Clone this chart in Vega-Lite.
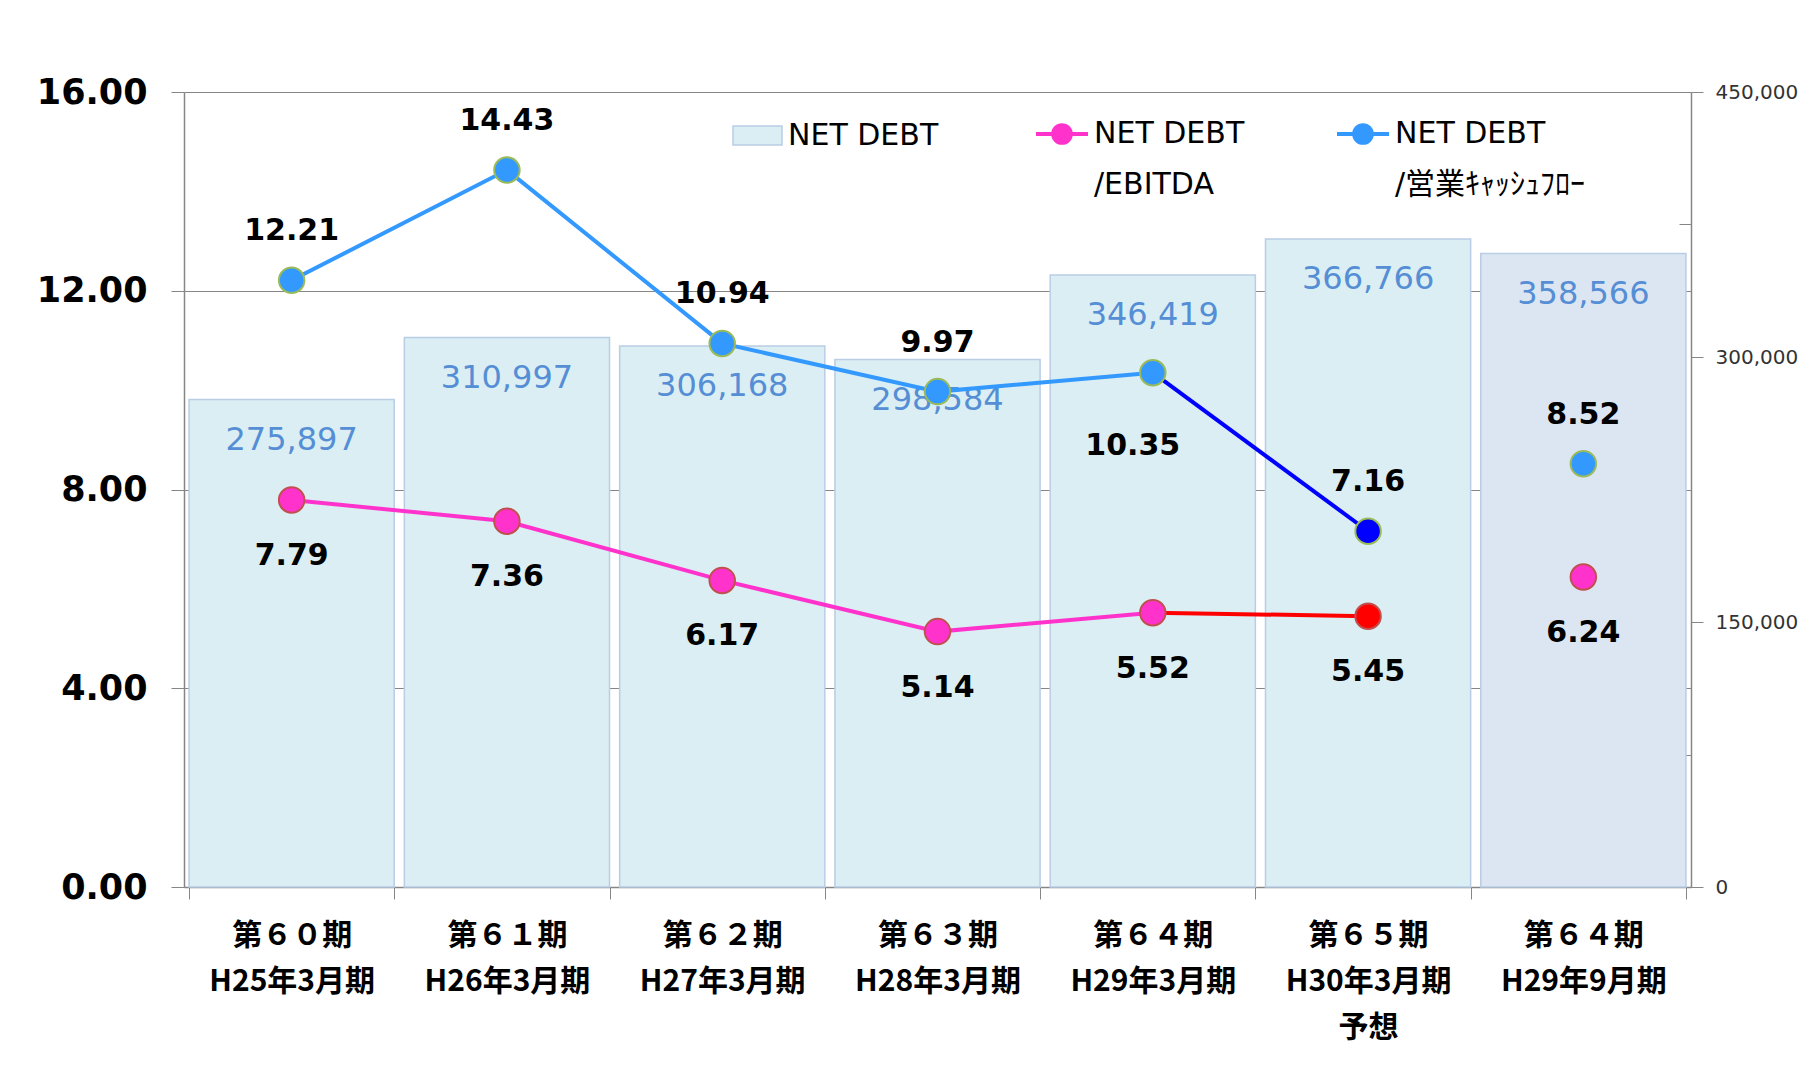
{
  "$schema": "https://vega.github.io/schema/vega-lite/v6.json",
  "width": 1507,
  "height": 795,
  "autosize": {"type": "none"},
  "padding": {"left": 184, "top": 92, "right": 111, "bottom": 188},
  "background": "white",
  "config": {"view": {"stroke": null}},
  "datasets": {
    "debt": [
      {"period": "第６０期\nH25年3月期", "series": "NET DEBT", "amount": 275897, "kind": "実績"},
      {"period": "第６１期\nH26年3月期", "series": "NET DEBT", "amount": 310997, "kind": "実績"},
      {"period": "第６２期\nH27年3月期", "series": "NET DEBT", "amount": 306168, "kind": "実績"},
      {"period": "第６３期\nH28年3月期", "series": "NET DEBT", "amount": 298584, "kind": "実績"},
      {"period": "第６４期\nH29年3月期", "series": "NET DEBT", "amount": 346419, "kind": "実績"},
      {"period": "第６５期\nH30年3月期\n予想", "series": "NET DEBT", "amount": 366766, "kind": "予想"},
      {"period": "第６４期\nH29年9月期", "series": "NET DEBT", "amount": 358566, "kind": "中間"}
    ],
    "ratio": [
      {"period": "第６０期\nH25年3月期", "series": "NET DEBT/EBITDA", "value": 7.79, "kind": "実績"},
      {"period": "第６１期\nH26年3月期", "series": "NET DEBT/EBITDA", "value": 7.36, "kind": "実績"},
      {"period": "第６２期\nH27年3月期", "series": "NET DEBT/EBITDA", "value": 6.17, "kind": "実績"},
      {"period": "第６３期\nH28年3月期", "series": "NET DEBT/EBITDA", "value": 5.14, "kind": "実績"},
      {"period": "第６４期\nH29年3月期", "series": "NET DEBT/EBITDA", "value": 5.52, "kind": "実績"},
      {"period": "第６５期\nH30年3月期\n予想", "series": "NET DEBT/EBITDA", "value": 5.45, "kind": "予想"},
      {"period": "第６４期\nH29年9月期", "series": "NET DEBT/EBITDA", "value": 6.24, "kind": "中間"},
      {"period": "第６０期\nH25年3月期", "series": "NET DEBT/営業ｷｬｯｼｭﾌﾛｰ", "value": 12.21, "kind": "実績"},
      {"period": "第６１期\nH26年3月期", "series": "NET DEBT/営業ｷｬｯｼｭﾌﾛｰ", "value": 14.43, "kind": "実績"},
      {"period": "第６２期\nH27年3月期", "series": "NET DEBT/営業ｷｬｯｼｭﾌﾛｰ", "value": 10.94, "kind": "実績"},
      {"period": "第６３期\nH28年3月期", "series": "NET DEBT/営業ｷｬｯｼｭﾌﾛｰ", "value": 9.97, "kind": "実績"},
      {"period": "第６４期\nH29年3月期", "series": "NET DEBT/営業ｷｬｯｼｭﾌﾛｰ", "value": 10.35, "kind": "実績"},
      {"period": "第６５期\nH30年3月期\n予想", "series": "NET DEBT/営業ｷｬｯｼｭﾌﾛｰ", "value": 7.16, "kind": "予想"},
      {"period": "第６４期\nH29年9月期", "series": "NET DEBT/営業ｷｬｯｼｭﾌﾛｰ", "value": 8.52, "kind": "中間"}
    ]
  },
  "encoding": {
    "x": {
      "field": "period",
      "type": "nominal",
      "sort": null,
      "scale": {
        "domain": ["第６０期\nH25年3月期", "第６１期\nH26年3月期", "第６２期\nH27年3月期", "第６３期\nH28年3月期", "第６４期\nH29年3月期", "第６５期\nH30年3月期\n予想", "第６４期\nH29年9月期"],
        "paddingInner": 0.047,
        "paddingOuter": 0.0235
      },
      "axis": {
        "title": null,
        "labelAngle": 0,
        "labelExpr": "split(datum.label, '\\n')",
        "labelFont": "Noto Sans CJK JP",
        "labelFontWeight": "bold",
        "labelFontSize": 30,
        "labelColor": "#000000",
        "labelLineHeight": 46,
        "labelPadding": 21,
        "labelBaseline": "top",
        "tickBand": "extent",
        "tickSize": 12,
        "tickColor": "#868686",
        "domainColor": "#868686",
        "domainWidth": 1.5,
        "grid": false
      }
    }
  },
  "layer": [
    {
      "data": {"name": "debt"},
      "encoding": {
        "y": {
          "field": "amount",
          "type": "quantitative",
          "scale": {"domain": [0, 450000], "nice": false, "zero": true},
          "axis": {
            "orient": "right",
            "title": null,
            "grid": false,
            "values": [0, 75000, 150000, 225000, 300000, 375000, 450000],
            "labelExpr": "datum.value % 150000 == 0 ? format(datum.value, ',') : ''",
            "labelFont": "DejaVu Sans",
            "labelFontSize": 20,
            "labelColor": "#333333",
            "labelPadding": 12,
            "tickSize": {"condition": {"test": "datum.value % 150000 == 0", "value": 12}, "value": -12},
            "tickColor": "#868686",
            "domainColor": "#868686",
            "domainWidth": 1.5
          }
        }
      },
      "layer": [
        {
          "mark": {"type": "bar", "stroke": "#B9CDE5", "strokeWidth": 1.5},
          "encoding": {
            "color": {
              "condition": {"test": "datum.kind == '中間'", "value": "#DCE6F2"},
              "field": "series",
              "type": "nominal",
              "scale": {"domain": ["NET DEBT"], "range": ["#DAEEF3"]},
              "legend": {
                "title": null,
                "orient": "none",
                "legendX": 548,
                "legendY": 18,
                "padding": 0,
                "symbolType": "M-1,-0.39H1V0.39H-1Z",
                "symbolSize": 2401,
                "symbolStrokeColor": "#B9CDE5",
                "symbolStrokeWidth": 1.5,
                "labelFont": "DejaVu Sans",
                "labelFontSize": 30,
                "labelColor": "#000000",
                "labelOffset": 5
              }
            }
          }
        },
        {
          "mark": {"type": "text", "font": "DejaVu Sans", "fontSize": 32, "color": "#558ED5", "baseline": "middle", "dy": 40},
          "encoding": {
            "text": {"field": "amount", "type": "quantitative", "format": ","}
          }
        }
      ]
    },
    {
      "data": {"name": "ratio"},
      "encoding": {
        "y": {
          "field": "value",
          "type": "quantitative",
          "scale": {"domain": [0, 16], "nice": false, "zero": true},
          "axis": {
            "orient": "left",
            "title": null,
            "values": [0, 4, 8, 12, 16],
            "format": ".2f",
            "labelFont": "DejaVu Sans",
            "labelFontWeight": "bold",
            "labelFontSize": 35,
            "labelColor": "#000000",
            "labelPadding": 24,
            "tickSize": 13,
            "tickColor": "#868686",
            "domainColor": "#868686",
            "domainWidth": 1.5,
            "grid": true,
            "gridColor": "#868686",
            "gridWidth": 1.2
          }
        }
      },
      "layer": [
        {
          "transform": [{"filter": "datum.kind == '実績'"}],
          "mark": {"type": "line", "strokeWidth": 4},
          "encoding": {
            "stroke": {
              "field": "series",
              "type": "nominal",
              "scale": {"domain": ["NET DEBT/EBITDA", "NET DEBT/営業ｷｬｯｼｭﾌﾛｰ"], "range": ["#FF33CC", "#3399FF"]},
              "legend": {
                "title": null,
                "orient": "none",
                "direction": "horizontal",
                "legendX": 850,
                "legendY": 14,
                "padding": 0,
                "columnPadding": 84,
                "symbolType": "M-1,0H-0.34M0.34,0H1M-0.34,0A0.34,0.34 0 1 1 0.34,0A0.34,0.34 0 1 1 -0.34,0Z",
                "symbolSize": 2704,
                "symbolStrokeWidth": 4,
                "labelFont": "DejaVu Sans, Noto Sans CJK JP",
                "labelFontSize": 30,
                "labelColor": "#000000",
                "labelOffset": 4,
                "labelLimit": 500,
                "labelBaseline": "middle",
                "labelExpr": "split(replace(datum.label, '/', '|/'), '|')",
                "encode": {
                  "symbols": {"update": {"fill": {"scale": "stroke", "field": "value"}}},
                  "labels": {"update": {"lineHeight": {"value": 51}}}
                }
              }
            }
          }
        },
        {
          "transform": [{"filter": "datum.kind == '予想' || datum.period == '第６４期\\nH29年3月期'"}],
          "mark": {"type": "line", "strokeWidth": 4},
          "encoding": {
            "detail": {"field": "series", "type": "nominal"},
            "stroke": {
              "condition": {"test": "datum.series == 'NET DEBT/EBITDA'", "value": "#FF0000"},
              "value": "#0000FF"
            }
          }
        },
        {
          "mark": {"type": "point", "filled": true, "size": 650, "strokeWidth": 2, "opacity": 1},
          "encoding": {
            "fill": {
              "condition": [
                {"test": "datum.kind == '予想' && datum.series == 'NET DEBT/EBITDA'", "value": "#FF0000"},
                {"test": "datum.kind == '予想'", "value": "#0000FF"}
              ],
              "field": "series",
              "type": "nominal",
              "scale": {"domain": ["NET DEBT/EBITDA", "NET DEBT/営業ｷｬｯｼｭﾌﾛｰ"], "range": ["#FF33CC", "#3399FF"]},
              "legend": null
            },
            "stroke": {
              "condition": {"test": "datum.series == 'NET DEBT/EBITDA'", "value": "#C0504D"},
              "value": "#9BBB59"
            }
          }
        },
        {
          "transform": [{"filter": "datum.series == 'NET DEBT/EBITDA'"}],
          "mark": {"type": "text", "font": "DejaVu Sans", "fontWeight": "bold", "fontSize": 30, "color": "#000000", "baseline": "middle", "dy": 56},
          "encoding": {"text": {"field": "value", "type": "quantitative", "format": ".2f"}}
        },
        {
          "transform": [{"filter": "datum.series != 'NET DEBT/EBITDA' && datum.period != '第６４期\\nH29年3月期'"}],
          "mark": {"type": "text", "font": "DejaVu Sans", "fontWeight": "bold", "fontSize": 30, "color": "#000000", "baseline": "middle", "dy": -49},
          "encoding": {"text": {"field": "value", "type": "quantitative", "format": ".2f"}}
        },
        {
          "transform": [{"filter": "datum.series != 'NET DEBT/EBITDA' && datum.period == '第６４期\\nH29年3月期'"}],
          "mark": {"type": "text", "font": "DejaVu Sans", "fontWeight": "bold", "fontSize": 30, "color": "#000000", "baseline": "middle", "dy": 73, "dx": -20},
          "encoding": {"text": {"field": "value", "type": "quantitative", "format": ".2f"}}
        }
      ]
    }
  ],
  "resolve": {"scale": {"y": "independent"}}
}
